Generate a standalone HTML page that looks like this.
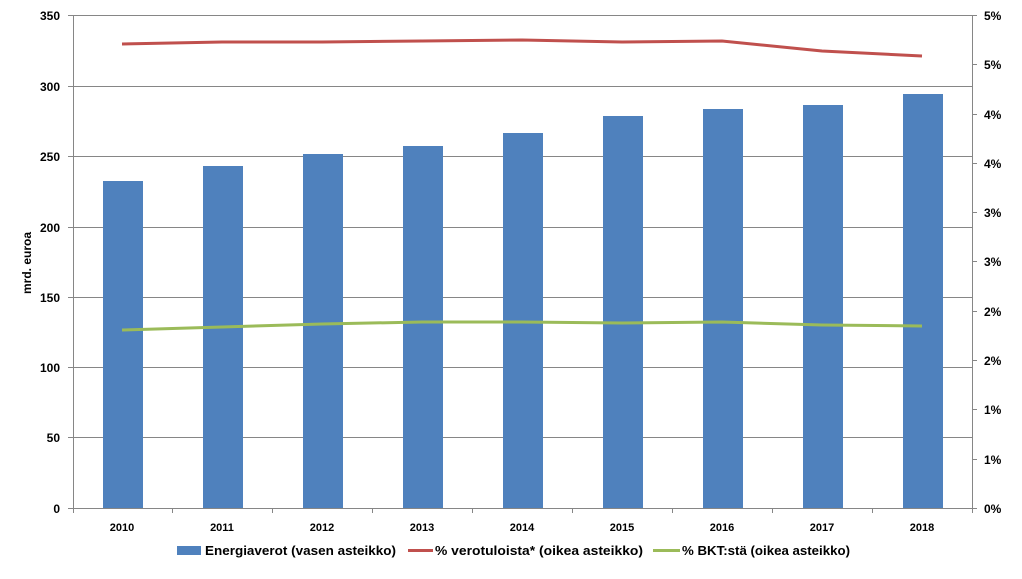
<!DOCTYPE html>
<html><head><meta charset="utf-8"><style>
html,body{margin:0;padding:0;background:#fff;}
text{font-family:"Liberation Sans",sans-serif;font-weight:bold;fill:#000;}
</style></head><body>
<svg width="1022" height="574" xmlns="http://www.w3.org/2000/svg">
<g stroke="#868686" stroke-width="1">
<line x1="73" y1="15.5" x2="972" y2="15.5"/>
<line x1="73" y1="86.5" x2="972" y2="86.5"/>
<line x1="73" y1="156.5" x2="972" y2="156.5"/>
<line x1="73" y1="227.5" x2="972" y2="227.5"/>
<line x1="73" y1="297.5" x2="972" y2="297.5"/>
<line x1="73" y1="367.5" x2="972" y2="367.5"/>
<line x1="73" y1="437.5" x2="972" y2="437.5"/>
<line x1="73.5" y1="15" x2="73.5" y2="508"/>
<line x1="972.5" y1="15" x2="972.5" y2="508"/>
<line x1="68" y1="508.5" x2="972" y2="508.5"/>
<g>
<line x1="68" y1="15.5" x2="73" y2="15.5"/><line x1="68" y1="86.5" x2="73" y2="86.5"/><line x1="68" y1="156.5" x2="73" y2="156.5"/><line x1="68" y1="227.5" x2="73" y2="227.5"/><line x1="68" y1="297.5" x2="73" y2="297.5"/><line x1="68" y1="367.5" x2="73" y2="367.5"/><line x1="68" y1="437.5" x2="73" y2="437.5"/>
</g>
<g>
<line x1="972" y1="15.5" x2="977" y2="15.5"/><line x1="972" y1="64.5" x2="977" y2="64.5"/><line x1="972" y1="114.5" x2="977" y2="114.5"/><line x1="972" y1="163.5" x2="977" y2="163.5"/><line x1="972" y1="212.5" x2="977" y2="212.5"/><line x1="972" y1="261.5" x2="977" y2="261.5"/><line x1="972" y1="311.5" x2="977" y2="311.5"/><line x1="972" y1="360.5" x2="977" y2="360.5"/><line x1="972" y1="409.5" x2="977" y2="409.5"/><line x1="972" y1="459.5" x2="977" y2="459.5"/><line x1="972" y1="508.5" x2="977" y2="508.5"/>
</g>
<g>
<line x1="73.5" y1="508" x2="73.5" y2="513"/><line x1="172.5" y1="508" x2="172.5" y2="513"/><line x1="272.5" y1="508" x2="272.5" y2="513"/><line x1="372.5" y1="508" x2="372.5" y2="513"/><line x1="472.5" y1="508" x2="472.5" y2="513"/><line x1="572.5" y1="508" x2="572.5" y2="513"/><line x1="672.5" y1="508" x2="672.5" y2="513"/><line x1="772.5" y1="508" x2="772.5" y2="513"/><line x1="872.5" y1="508" x2="872.5" y2="513"/><line x1="972.5" y1="508" x2="972.5" y2="513"/>
</g>
</g>
<g fill="#4f81bd">
<rect x="103" y="181" width="40" height="327"/>
<rect x="203" y="166" width="40" height="342"/>
<rect x="303" y="154" width="40" height="354"/>
<rect x="403" y="146" width="40" height="362"/>
<rect x="503" y="133" width="40" height="375"/>
<rect x="603" y="116" width="40" height="392"/>
<rect x="703" y="109" width="40" height="399"/>
<rect x="803" y="105" width="40" height="403"/>
<rect x="903" y="94" width="40" height="414"/>
</g>
<polyline fill="none" stroke="#c0504d" stroke-width="3" points="122,44 222,42 322,42 422,41 522,40 622,42 722,41 822,51 922,56"/>
<polyline fill="none" stroke="#9bbb59" stroke-width="3" points="122,330 222,327 322,324 422,322 522,322 622,323 722,322 822,325 922,326"/>
<g font-size="12" text-anchor="end">
<text x="60" y="20">350</text><text x="60" y="91">300</text><text x="60" y="161">250</text><text x="60" y="232">200</text><text x="60" y="302">150</text><text x="60" y="372">100</text><text x="60" y="442">50</text><text x="60" y="513">0</text>
</g>
<g font-size="12">
<text x="984" y="20">5%</text><text x="984" y="69">5%</text><text x="984" y="119">4%</text><text x="984" y="168">4%</text><text x="984" y="217">3%</text><text x="984" y="266">3%</text><text x="984" y="316">2%</text><text x="984" y="365">2%</text><text x="984" y="414">1%</text><text x="984" y="464">1%</text><text x="984" y="513">0%</text>
</g>
<g font-size="11" text-anchor="middle">
<text x="122" y="531">2010</text><text x="222" y="531">2011</text><text x="322" y="531">2012</text><text x="422" y="531">2013</text><text x="522" y="531">2014</text><text x="622" y="531">2015</text><text x="722" y="531">2016</text><text x="822" y="531">2017</text><text x="922" y="531">2018</text>
</g>
<text font-size="12" text-anchor="middle" transform="translate(31,263) rotate(-90)">mrd. euroa</text>
<rect x="177" y="546" width="24" height="9" fill="#4f81bd"/>
<text x="205" y="555" font-size="13" textLength="191" lengthAdjust="spacingAndGlyphs">Energiaverot (vasen asteikko)</text>
<line x1="408" y1="550.5" x2="433" y2="550.5" stroke="#c0504d" stroke-width="3"/>
<text x="435" y="555" font-size="13" textLength="208" lengthAdjust="spacingAndGlyphs">% verotuloista* (oikea asteikko)</text>
<line x1="653" y1="550.5" x2="680" y2="550.5" stroke="#9bbb59" stroke-width="3"/>
<text x="682" y="555" font-size="13" textLength="168" lengthAdjust="spacingAndGlyphs">% BKT:stä (oikea asteikko)</text>
</svg>
</body></html>
